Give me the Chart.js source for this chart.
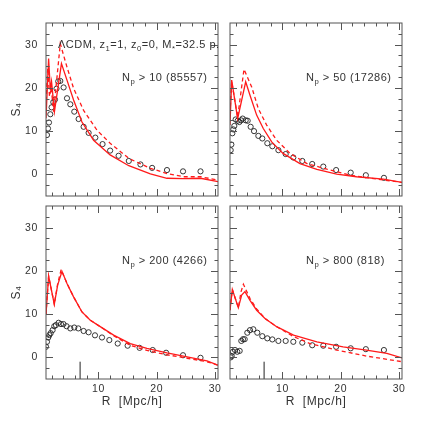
<!DOCTYPE html>
<html>
<head>
<meta charset="utf-8">
<script src="https://cdn.jsdelivr.net/npm/chart.js@4.4.0/dist/chart.umd.min.js"></script>
<style>
  body { margin: 0; background: #fff; width: 424px; height: 424px; position: relative; overflow: hidden; }
  canvas { position: absolute; left: 0; top: 0; }
</style>
</head>
<body>
<canvas id="tl" width="424" height="424"></canvas>
<canvas id="tr" width="424" height="424"></canvas>
<canvas id="bl" width="424" height="424"></canvas>
<canvas id="br" width="424" height="424"></canvas>
<script>
// axes
const xTicks = [10, 20, 30];
const yTicks = [0, 10, 20, 30];
const markerR = [6.85, 6.85];
const markerS = [-5, -1];

// N_p > 10
const tlCircR = [1.17, 1.34, 1.51, 1.74, 1.96, 2.25, 2.54, 2.8, 3.1, 3.45, 4.02, 4.6, 5.17, 5.85, 6.59, 7.45, 8.31, 9.46, 10.7, 12.0, 13.45, 15.2, 17.2, 19.2, 21.75, 24.5, 27.5];
const tlCircS = [9.1, 10.6, 12.0, 13.9, 15.5, 16.7, 17.3, 19.8, 21.5, 21.6, 20.1, 17.6, 16.2, 14.5, 12.8, 11.0, 9.6, 8.5, 7.0, 5.5, 4.3, 3.1, 2.3, 1.5, 1.0, 0.7, 0.7];
const tlSolidR = [1.0, 1.45, 1.74, 1.95, 2.45, 3.65, 4.6, 5.73, 7.17, 9.16, 12.0, 15.2, 18.9, 21.75, 24.5, 27.5, 30.5];
const tlSolidS = [13, 26.8, 19.5, 21.5, 14.5, 25.6, 21.8, 17.2, 12.1, 7.9, 4.5, 2.0, 0.1, -0.9, -1.0, -0.9, -1.7];
const tlDashR = [1.0, 1.3, 1.6, 1.9, 2.3, 3.45, 4.6, 5.73, 7.45, 9.75, 12.0, 15.2, 18.9, 21.75, 24.6, 27.5, 30.5];
const tlDashS = [17, 24.5, 18, 20, 14.5, 30.2, 24.8, 19.9, 14.8, 10.2, 7.2, 3.7, 1.4, 0.2, -0.55, -0.55, -1.3];

// N_p > 50
const trCircR = [1.12, 1.23, 1.4, 1.57, 1.74, 1.97, 2.31, 2.6, 2.89, 3.17, 3.69, 4.03, 4.54, 5.12, 5.86, 6.54, 7.4, 8.26, 9.3, 10.55, 11.86, 13.4, 15.1, 17.0, 19.2, 21.7, 24.3, 27.4];
const trCircS = [5.6, 6.9, 9.5, 10.4, 11.2, 12.7, 12.4, 12.1, 12.5, 12.9, 12.5, 12.4, 11.0, 10.0, 8.9, 8.3, 7.2, 6.5, 5.6, 4.7, 3.9, 3.1, 2.4, 1.8, 1.0, 0.4, -0.2, -0.8];
const trSolidR = [1.0, 1.29, 2.31, 3.69, 4.43, 5.57, 6.71, 8.15, 10.1, 13.0, 15.9, 19.3, 22.7, 27.3, 30.5];
const trSolidS = [11.4, 21.8, 12.9, 21.4, 18.3, 13.7, 10.6, 7.5, 4.85, 2.5, 1.15, 0.07, -0.55, -1.1, -1.85];
const trDashR = [1.0, 1.29, 2.31, 3.4, 4.72, 5.86, 7.29, 9.0, 11.3, 14.2, 17.6, 21.6, 26.2, 30.5];
const trDashS = [14, 21.5, 13.2, 24.3, 20.2, 15.2, 11.4, 7.9, 4.85, 2.5, 1.2, -0.2, -1.1, -1.85];

// N_p > 200
const blCircR = [1.0, 1.17, 1.39, 1.57, 1.8, 2.13, 2.42, 2.7, 3.16, 3.57, 4.0, 4.53, 5.17, 5.85, 6.54, 7.45, 8.31, 9.4, 10.6, 11.86, 13.3, 15.0, 17.05, 19.3, 21.6, 24.5, 27.5];
const blCircS = [2.45, 3.6, 4.6, 5.15, 5.6, 6.3, 7.2, 7.46, 8.0, 7.7, 7.7, 7.2, 6.7, 6.9, 6.7, 6.1, 5.8, 5.1, 4.6, 4.0, 3.2, 2.7, 2.2, 1.7, 1.07, 0.5, -0.1];
const blSolidR = [1.0, 1.45, 2.42, 3.0, 3.74, 4.6, 5.73, 7.17, 8.6, 10.3, 12.6, 15.45, 18.3, 21.75, 25.2, 28.6, 30.5];
const blSolidS = [10, 18.8, 12.3, 16.7, 19.9, 17.1, 14.0, 10.5, 8.6, 7.1, 5.15, 3.2, 2.1, 1.06, 0.14, -0.8, -1.8];
const blDashR = [1.0, 1.45, 2.42, 3.0, 3.6, 4.6, 5.73, 7.17, 8.6, 10.3, 12.6, 15.45, 18.3, 21.75, 25.2, 28.6, 30.5];
const blDashS = [10, 18.8, 12.3, 17, 20.3, 17.1, 14.0, 10.5, 8.6, 7.1, 5.0, 2.8, 1.6, 0.6, -0.2, -1.0, -1.8];

// N_p > 800
const brCircR = [1.12, 1.29, 1.51, 1.86, 2.25, 2.66, 2.94, 3.23, 3.52, 3.97, 4.43, 5.0, 5.68, 6.54, 7.4, 8.26, 9.3, 10.55, 11.86, 13.4, 15.1, 17.0, 19.2, 21.7, 24.3, 27.4];
const brCircS = [0.0, 0.3, 1.3, 1.7, 1.3, 1.5, 3.8, 4.2, 4.2, 5.7, 6.3, 6.5, 5.7, 4.9, 4.4, 4.15, 3.8, 3.8, 3.6, 3.4, 2.8, 2.7, 2.45, 2.1, 1.9, 1.7];
const brSolidR = [1.0, 1.4, 2.43, 3.0, 3.57, 4.43, 5.57, 7.0, 9.0, 11.9, 15.9, 20.4, 24.4, 27.9, 30.5];
const brSolidS = [10.9, 15.7, 11.5, 14.4, 15.2, 13.2, 10.9, 9.0, 7.1, 5.15, 3.6, 2.45, 1.7, 0.9, -0.1];
const brDashR = [1.0, 1.4, 2.43, 2.9, 3.3, 4.43, 5.57, 7.0, 9.0, 11.9, 14.7, 19.3, 24.4, 30.5];
const brDashS = [10.9, 15.7, 11.5, 15.2, 16.9, 13.6, 11.2, 9.0, 7.1, 4.8, 3.2, 1.7, 0.3, -1.0];

const FONT = '"Liberation Sans", Arial, sans-serif';
const INK = '#333';

function pts(rs, ss) {
    return rs.map((r, i) => ({x: r, y: ss[i]}));
}

function drawParts(ctx, x, y, parts, size) {
    for (const [t, sub] of parts) {
        ctx.font = (sub ? size * 0.7 : size) + 'px ' + FONT;
        ctx.fillText(t, x, sub ? y + size * 0.3 : y);
        x += ctx.measureText(t).width;
    }
}

const framePlugin = {
    id: 'frame',
    beforeDraw(chart) {
        // the original lettering is rather widely spaced
        chart.ctx.letterSpacing = '0.6px';
    },
    afterDatasetsDraw(chart, args, opts) {
        const {ctx, chartArea: a, scales: {x, y}} = chart;
        ctx.save();
        ctx.strokeStyle = '#555';
        ctx.lineWidth = 1;
        ctx.strokeRect(a.left, a.top, a.right - a.left, a.bottom - a.top);
        ctx.beginPath();
        for (let v = 2; v <= 30; v += 2) {
            const px = Math.round(x.getPixelForValue(v)) + 0.5;
            const len = v % 10 === 0 ? 7 : 3.5;
            ctx.moveTo(px, a.bottom); ctx.lineTo(px, a.bottom - len);
            ctx.moveTo(px, a.top); ctx.lineTo(px, a.top + len);
        }
        for (let v = -2.5; v < 35; v += 2.5) {
            const py = Math.round(y.getPixelForValue(v)) + 0.5;
            const len = v % 10 === 0 ? 7 : 3.5;
            ctx.moveTo(a.left, py); ctx.lineTo(a.left + len, py);
            ctx.moveTo(a.right, py); ctx.lineTo(a.right - len, py);
        }
        ctx.stroke();

        ctx.fillStyle = INK;
        ctx.textBaseline = 'alphabetic';
        ctx.textAlign = 'left';
        ctx.letterSpacing = '0.5px';
        drawParts(ctx, a.left + 76, a.top + 58, [['N'], ['p', true], [' > ' + opts.np]], 11);
        if (opts.model) {
            drawParts(ctx, a.left + 12, a.top + 25, [
                ['\u039BCDM, z'], ['1', true], ['=1, z'], ['0', true], ['=0, M'], ['*', true], ['=32.5 p.']
            ], 11);
        }
        ctx.restore();
    }
};

function panel(id, p) {
    const datasets = [
        {data: pts(p.solidR, p.solidS), showLine: true, borderColor: '#ff1a1a', borderWidth: 1.3, pointRadius: 0},
        {data: pts(p.dashR, p.dashS), showLine: true, borderColor: '#ff1a1a', borderWidth: 1.3, borderDash: [4, 3], pointRadius: 0},
        {data: pts(p.circR, p.circS), pointRadius: 2.6, borderColor: '#222', borderWidth: 0.9,
            backgroundColor: 'rgba(0,0,0,0)', pointStyle: 'circle'}
    ];
    if (p.marker) {
        datasets.push({data: pts(markerR, markerS), showLine: true, borderColor: '#222', borderWidth: 1, pointRadius: 0});
    }
    const tickFont = {family: FONT, size: 10.5};
    new Chart(document.getElementById(id), {
        type: 'scatter',
        data: {datasets},
        options: {
            responsive: false,
            animation: false,
            devicePixelRatio: 1,
            layout: {padding: p.pad},
            plugins: {legend: {display: false}, tooltip: {enabled: false}, frame: {np: p.np, model: p.model}},
            scales: {
                x: {
                    type: 'linear', min: 1, max: 30.5, display: p.xAxis,
                    afterBuildTicks: s => { s.ticks = xTicks.map(v => ({value: v})); },
                    afterFit: s => { if (p.xAxis) s.height = 45; },
                    grid: {display: false, drawTicks: false},
                    border: {display: false},
                    ticks: {font: tickFont, color: INK, padding: 4, maxRotation: 0, autoSkip: false},
                    title: {display: p.xAxis, text: 'R  [Mpc/h]', color: INK,
                        font: {family: FONT, size: 12}, padding: {top: 0, bottom: 15}}
                },
                y: {
                    type: 'linear', min: -5, max: 35, display: p.yAxis,
                    afterBuildTicks: s => { s.ticks = yTicks.map(v => ({value: v})); },
                    afterFit: s => { if (p.yAxis) s.width = 46; },
                    grid: {display: false, drawTicks: false},
                    border: {display: false},
                    ticks: {font: tickFont, color: INK, padding: 8},
                    title: {display: p.yAxis, text: 'S\u2084', color: INK,
                        font: {family: FONT, size: 12}, padding: {top: 9, bottom: 0}}
                }
            }
        },
        plugins: [framePlugin]
    });
}

panel('tl', {circR: tlCircR, circS: tlCircS, solidR: tlSolidR, solidS: tlSolidS, dashR: tlDashR, dashS: tlDashS,
    np: '10 (85557)', model: true, xAxis: false, yAxis: true,
    pad: {left: 0, top: 23, right: 206, bottom: 228}});
panel('tr', {circR: trCircR, circS: trCircS, solidR: trSolidR, solidS: trSolidS, dashR: trDashR, dashS: trDashS,
    np: '50 (17286)', xAxis: false, yAxis: false,
    pad: {left: 230, top: 23, right: 22, bottom: 228}});
panel('bl', {circR: blCircR, circS: blCircS, solidR: blSolidR, solidS: blSolidS, dashR: blDashR, dashS: blDashS,
    np: '200 (4266)', marker: true, xAxis: true, yAxis: true,
    pad: {left: 0, top: 206, right: 206, bottom: 0}});
panel('br', {circR: brCircR, circS: brCircS, solidR: brSolidR, solidS: brSolidS, dashR: brDashR, dashS: brDashS,
    np: '800 (818)', marker: true, xAxis: true, yAxis: false,
    pad: {left: 230, top: 206, right: 22, bottom: 0}});
</script>
</body>
</html>
